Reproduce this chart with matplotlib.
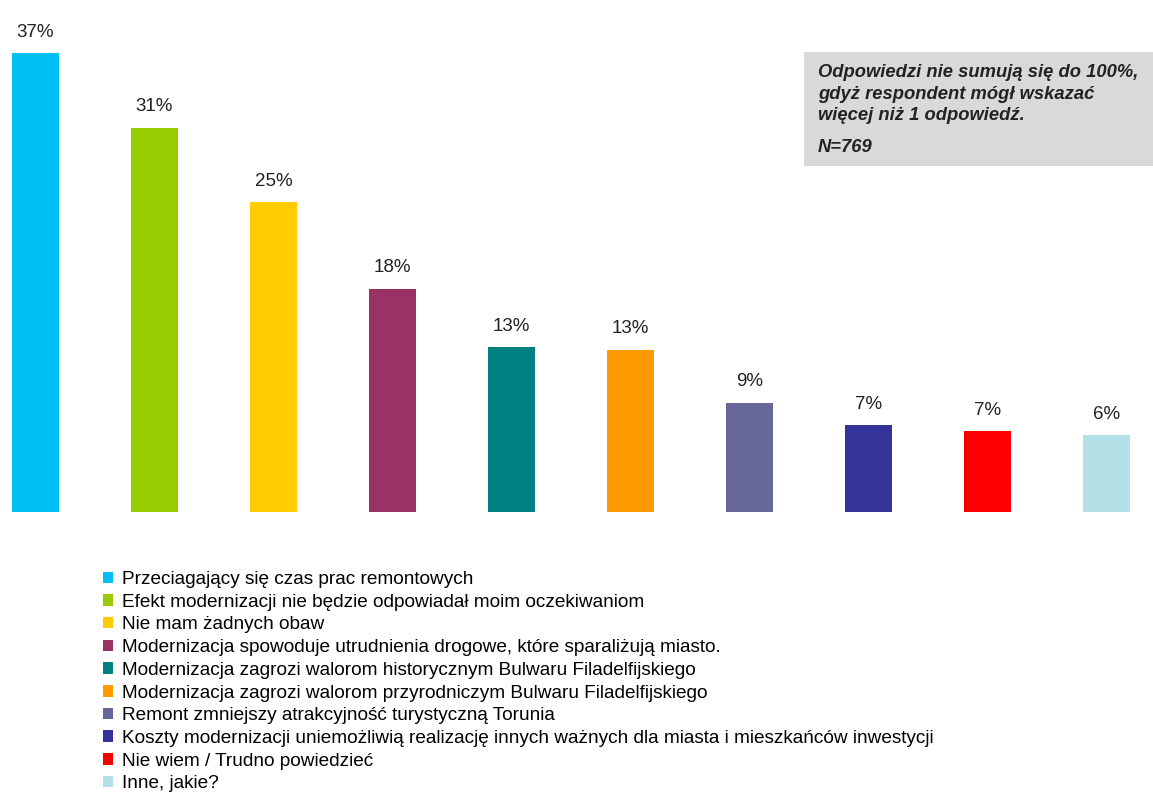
import numpy as np
import matplotlib.pyplot as plt
from matplotlib.patches import Rectangle

plt.rcParams['font.family'] = ['Liberation Sans', 'DejaVu Sans']

categories = [
    "Przeciagający się czas prac remontowych",
    "Efekt modernizacji nie będzie odpowiadał moim oczekiwaniom",
    "Nie mam żadnych obaw",
    "Modernizacja spowoduje utrudnienia drogowe, które sparaliżują miasto.",
    "Modernizacja zagrozi walorom historycznym Bulwaru Filadelfijskiego",
    "Modernizacja zagrozi walorom przyrodniczym Bulwaru Filadelfijskiego",
    "Remont zmniejszy atrakcyjność turystyczną Torunia",
    "Koszty modernizacji uniemożliwią realizację innych ważnych dla miasta i mieszkańców inwestycji",
    "Nie wiem / Trudno powiedzieć",
    "Inne, jakie?",
]
values = [37, 31, 25, 18, 13.3, 13.1, 8.8, 7.0, 6.5, 6.2]
labels = ["37%", "31%", "25%", "18%", "13%", "13%", "9%", "7%", "7%", "6%"]
colors = ["#00BFF3", "#99CC00", "#FFCC00", "#993366", "#008080",
          "#FF9900", "#666699", "#333399", "#FF0000", "#B2E0E6"]

W, H = 1153, 796
fig = plt.figure(figsize=(W / 100, H / 100), dpi=100)
ax = fig.add_axes([0, (H - 512) / H, 1, 512 / H])

x = np.arange(len(values))
bars = ax.bar(x, values, width=0.395, color=colors)
for xi, v, lab in zip(x, values, labels):
    ax.text(xi, v + 1.0, lab, ha='center', va='bottom', fontsize=13.5, color='#222222')

ax.set_xlim(-35.5 / 119, (W - 35.5) / 119)
ax.set_ylim(0, 512 / 12.4)
ax.axis('off')

# note box
fig.patches.append(Rectangle((804 / W, 1 - 166 / H), (W - 804) / W, 114 / H,
                             transform=fig.transFigure, facecolor='#D9D9D9',
                             edgecolor='none', zorder=0))
note = ("Odpowiedzi nie sumują się do 100%,\n"
        "gdyż respondent mógł wskazać\n"
        "więcej niż 1 odpowiedź.")
fig.text(818 / W, 1 - 64 / H, note, ha='left', va='top', fontsize=13.2,
         fontweight='bold', fontstyle='italic', linespacing=1.36, color='#222222')
fig.text(818 / W, 1 - 139 / H, "N=769", ha='left', va='top', fontsize=13.2,
         fontweight='bold', fontstyle='italic', color='#222222')

fig.legend(bars, categories, loc='upper left', bbox_to_anchor=(103 / W, 1 - 571 / H),
           frameon=False, fontsize=13.7, handlelength=0.55, handleheight=0.55,
           handletextpad=0.45, labelspacing=0.3, borderpad=0, borderaxespad=0)

fig.savefig('out.png', dpi=100)
